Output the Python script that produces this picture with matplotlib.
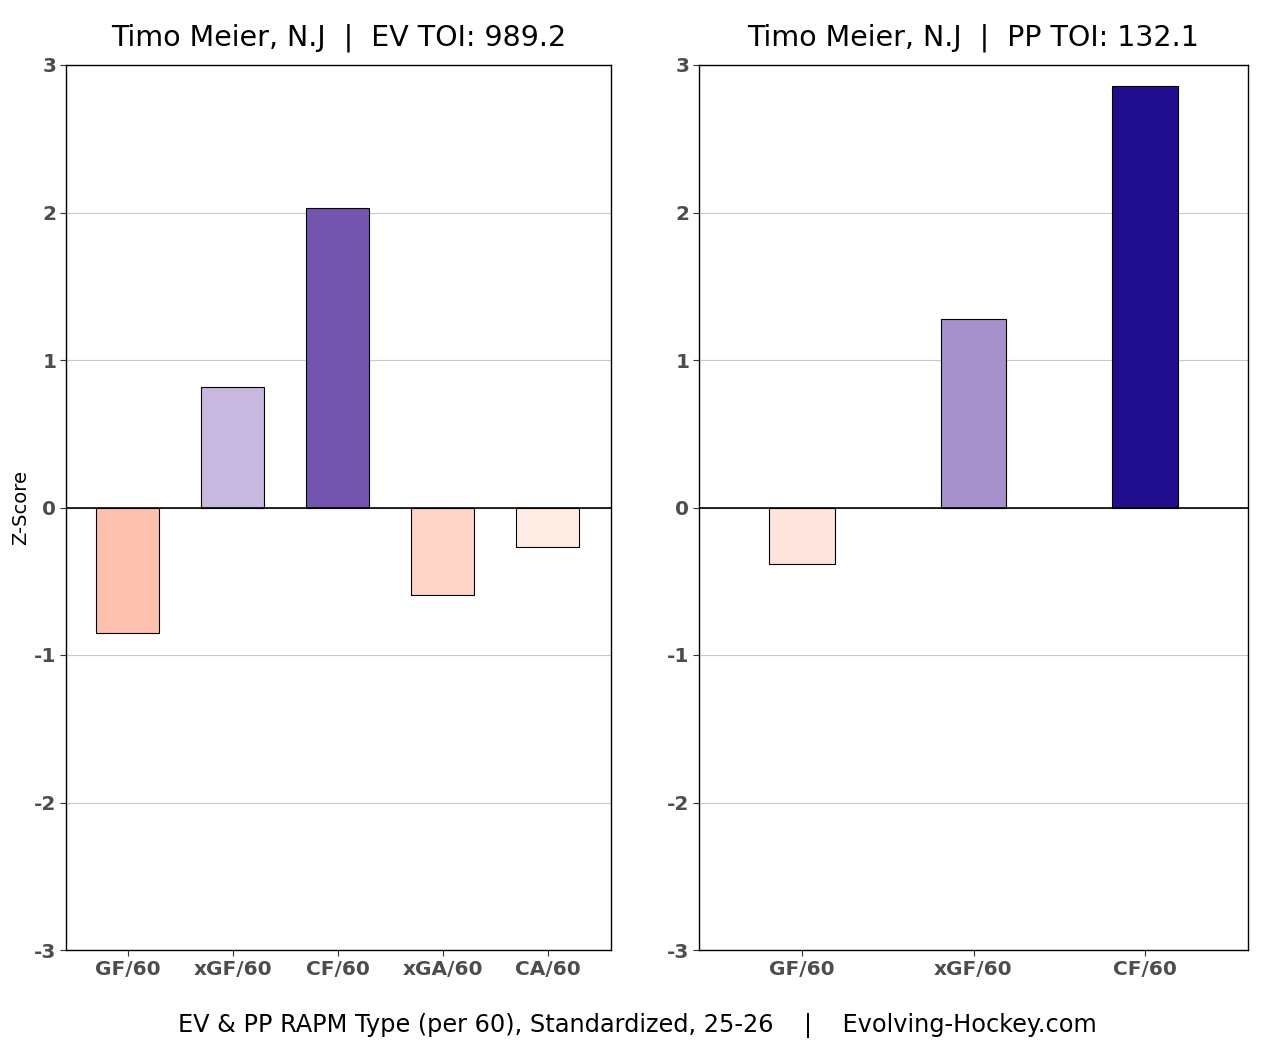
import matplotlib
matplotlib.use("Agg")
import matplotlib.pyplot as plt

plt.rcParams['axes.unicode_minus'] = False
plt.rcParams['font.family'] = ['DejaVu Sans']

ev_cats = ["GF/60", "xGF/60", "CF/60", "xGA/60", "CA/60"]
ev_vals = [-0.85, 0.82, 2.03, -0.59, -0.27]
ev_colors = ["#fdc1b0", "#c6b8df", "#7355b0", "#fdd4c8", "#feebe4"]

pp_cats = ["GF/60", "xGF/60", "CF/60"]
pp_vals = [-0.38, 1.28, 2.86]
pp_colors = ["#fee3dc", "#a791cc", "#210e8f"]

ev_title = "Timo Meier, N.J  |  EV TOI: 989.2"
pp_title = "Timo Meier, N.J  |  PP TOI: 132.1"
footer = "EV & PP RAPM Type (per 60), Standardized, 25-26    |    Evolving-Hockey.com"
yticks = [-3, -2, -1, 0, 1, 2, 3]

fig = plt.figure(figsize=(12.75, 10.5), dpi=100)
W, H = 1275, 1050
ax1 = fig.add_axes([66 / W, 1 - 950 / H, 545 / W, 885 / H])
ax2 = fig.add_axes([699 / W, 1 - 950 / H, 549 / W, 885 / H])

def draw(ax, cats, vals, colors, width, xlim, title):
    x = list(range(len(cats)))
    ax.set_axisbelow(True)
    ax.grid(axis='y', color='#c8c8c8', linewidth=0.8)
    ax.bar(x, vals, width=width, color=colors, edgecolor='black', linewidth=0.8, zorder=2)
    ax.axhline(0, color='black', linewidth=1.2, zorder=3)
    ax.set_ylim(-3, 3)
    ax.set_xlim(*xlim)
    ax.set_yticks(yticks)
    ax.set_yticklabels([str(t) for t in yticks])
    ax.set_xticks(x)
    ax.set_xticklabels(cats)
    for lab in ax.get_xticklabels() + ax.get_yticklabels():
        lab.set_fontweight('bold')
        lab.set_color('#4d4d4d')
        lab.set_fontsize(14.5)
    ax.tick_params(axis='both', length=4, color='#333333', width=0.8, pad=3)
    for s in ax.spines.values():
        s.set_linewidth(1.0)
        s.set_color('black')
    ax.set_title(title, fontsize=20.5, pad=14)

draw(ax1, ev_cats, ev_vals, ev_colors, 0.6, (-0.59, 4.6), ev_title)
draw(ax2, pp_cats, pp_vals, pp_colors, 0.38, (-0.6, 2.6), pp_title)
ax1.set_ylabel("Z-Score", fontsize=14, labelpad=3)

fig.text(637 / W, 1 - 1026 / H, footer, ha='center', va='center', fontsize=17.3)

fig.savefig("out.png", dpi=100, facecolor='white')
